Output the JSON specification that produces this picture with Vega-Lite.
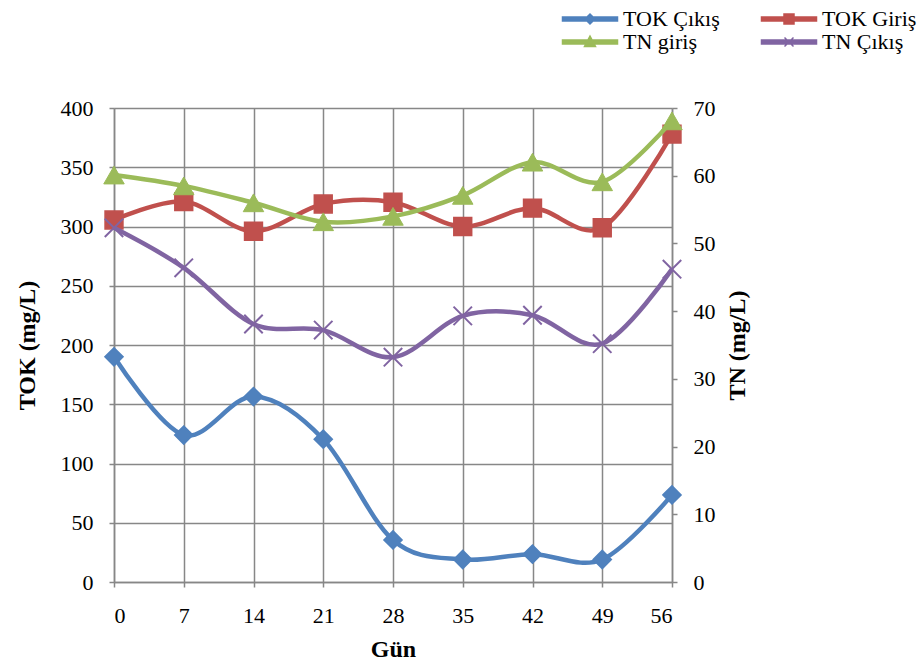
{
  "$schema": "https://vega.github.io/schema/vega-lite/v6.json",
  "width": 558,
  "height": 474,
  "autosize": "none",
  "padding": {"left": 114, "top": 108, "right": 251, "bottom": 87},
  "background": "white",
  "config": {
    "font": "Liberation Serif",
    "view": {"stroke": null},
    "axis": {
      "labelFont": "Liberation Serif",
      "labelFontSize": 22,
      "labelColor": "black",
      "titleFont": "Liberation Serif",
      "titleFontSize": 24,
      "titleFontWeight": "bold",
      "titleColor": "black",
      "domainColor": "#878787",
      "domainWidth": 1.5,
      "tickColor": "#878787",
      "tickWidth": 1.5,
      "tickSize": 5,
      "gridColor": "#878787",
      "gridWidth": 1.5,
      "gridOpacity": 1,
      "labelPadding": 16
    }
  },
  "data": {
    "values": [
      {"gun": 0, "seri": "TOK Çıkış", "eksen": "TOK", "deger": 190},
      {"gun": 7, "seri": "TOK Çıkış", "eksen": "TOK", "deger": 124},
      {"gun": 14, "seri": "TOK Çıkış", "eksen": "TOK", "deger": 156.5},
      {"gun": 21, "seri": "TOK Çıkış", "eksen": "TOK", "deger": 120.5},
      {"gun": 28, "seri": "TOK Çıkış", "eksen": "TOK", "deger": 35.5},
      {"gun": 35, "seri": "TOK Çıkış", "eksen": "TOK", "deger": 19},
      {"gun": 42, "seri": "TOK Çıkış", "eksen": "TOK", "deger": 23.5},
      {"gun": 49, "seri": "TOK Çıkış", "eksen": "TOK", "deger": 19},
      {"gun": 56, "seri": "TOK Çıkış", "eksen": "TOK", "deger": 73.5},
      {"gun": 0, "seri": "TOK Giriş", "eksen": "TOK", "deger": 305.5},
      {"gun": 7, "seri": "TOK Giriş", "eksen": "TOK", "deger": 321},
      {"gun": 14, "seri": "TOK Giriş", "eksen": "TOK", "deger": 296},
      {"gun": 21, "seri": "TOK Giriş", "eksen": "TOK", "deger": 319},
      {"gun": 28, "seri": "TOK Giriş", "eksen": "TOK", "deger": 320.5},
      {"gun": 35, "seri": "TOK Giriş", "eksen": "TOK", "deger": 300},
      {"gun": 42, "seri": "TOK Giriş", "eksen": "TOK", "deger": 315.5},
      {"gun": 49, "seri": "TOK Giriş", "eksen": "TOK", "deger": 299},
      {"gun": 56, "seri": "TOK Giriş", "eksen": "TOK", "deger": 378},
      {"gun": 0, "seri": "TN giriş", "eksen": "TN", "deger": 60.1},
      {"gun": 7, "seri": "TN giriş", "eksen": "TN", "deger": 58.5},
      {"gun": 14, "seri": "TN giriş", "eksen": "TN", "deger": 56},
      {"gun": 21, "seri": "TN giriş", "eksen": "TN", "deger": 53.2},
      {"gun": 28, "seri": "TN giriş", "eksen": "TN", "deger": 54},
      {"gun": 35, "seri": "TN giriş", "eksen": "TN", "deger": 57.1},
      {"gun": 42, "seri": "TN giriş", "eksen": "TN", "deger": 62},
      {"gun": 49, "seri": "TN giriş", "eksen": "TN", "deger": 59.1},
      {"gun": 56, "seri": "TN giriş", "eksen": "TN", "deger": 68.1},
      {"gun": 0, "seri": "TN Çıkış", "eksen": "TN", "deger": 52.3},
      {"gun": 7, "seri": "TN Çıkış", "eksen": "TN", "deger": 46.4},
      {"gun": 14, "seri": "TN Çıkış", "eksen": "TN", "deger": 38.1},
      {"gun": 21, "seri": "TN Çıkış", "eksen": "TN", "deger": 37.2},
      {"gun": 28, "seri": "TN Çıkış", "eksen": "TN", "deger": 33.2},
      {"gun": 35, "seri": "TN Çıkış", "eksen": "TN", "deger": 39.3},
      {"gun": 42, "seri": "TN Çıkış", "eksen": "TN", "deger": 39.4},
      {"gun": 49, "seri": "TN Çıkış", "eksen": "TN", "deger": 35.2},
      {"gun": 56, "seri": "TN Çıkış", "eksen": "TN", "deger": 46.2}
    ]
  },
  "encoding": {
    "x": {
      "field": "gun",
      "type": "quantitative",
      "scale": {"domain": [0, 56], "nice": false, "zero": false},
      "axis": {
        "values": [0, 7, 14, 21, 28, 35, 42, 49, 56],
        "title": "Gün",
        "grid": true,
        "labelAngle": 0,
        "labelPadding": 18,
        "titlePadding": 11
      }
    }
  },
  "layer": [
    {
      "transform": [{"filter": "datum.eksen === 'TOK'"}],
      "encoding": {
        "y": {
          "field": "deger",
          "type": "quantitative",
          "scale": {"domain": [0, 400], "nice": false},
          "axis": {
            "orient": "left",
            "values": [0, 50, 100, 150, 200, 250, 300, 350, 400],
            "title": "TOK (mg/L)",
            "grid": true,
            "titlePadding": 21
          }
        }
      },
      "layer": [
        {
          "mark": {"type": "line", "interpolate": "cardinal", "strokeWidth": 4.5},
          "encoding": {
            "color": {
              "field": "seri",
              "type": "nominal",
              "scale": {
                "domain": ["TOK Çıkış", "TOK Giriş", "TN giriş", "TN Çıkış"],
                "range": ["#4F81BD", "#C0504D", "#9BBB59", "#8064A2"]
              }
            }
          }
        },
        {
          "transform": [{"filter": "datum.seri === 'TOK Çıkış'"}],
          "mark": {"type": "point", "shape": "diamond", "filled": true, "size": 330, "opacity": 1, "color": "#4F81BD", "strokeWidth": 1.5, "stroke": "#4F81BD"}
        },
        {
          "transform": [{"filter": "datum.seri === 'TOK Giriş'"}],
          "mark": {"type": "point", "shape": "square", "filled": true, "size": 320, "opacity": 1, "color": "#C0504D", "strokeWidth": 1.5, "stroke": "#C0504D"}
        },
        {
          "mark": {"type": "point", "filled": true, "size": 400, "opacity": 0},
          "encoding": {
            "color": {
              "field": "seri",
              "type": "nominal",
              "legend": {
                "orient": "none",
                "direction": "horizontal",
                "legendX": 465,
                "legendY": -100,
                "columns": 2,
                "title": null,
                "labelFont": "Liberation Serif",
                "labelFontSize": 22,
                "labelColor": "black",
                "labelLimit": 300,
                "symbolSize": 400,
                "symbolStrokeWidth": 1.5,
                "symbolOpacity": 1,
                "labelOffset": 22,
                "columnPadding": 38,
                "rowPadding": 1
              }
            },
            "shape": {
              "field": "seri",
              "type": "nominal",
              "scale": {
                "domain": ["TOK Çıkış", "TOK Giriş", "TN giriş", "TN Çıkış"],
                "range": [
                  "M-2.75,-0.2L2.75,-0.2L2.75,0.2L-2.75,0.2ZM-0.5,0L0,-0.5L0.5,0L0,0.5Z",
                  "M-2.75,-0.2L2.75,-0.2L2.75,0.2L-2.75,0.2ZM-0.5,-0.5L0.5,-0.5L0.5,0.5L-0.5,0.5Z",
                  "M-2.75,-0.2L2.75,-0.2L2.75,0.2L-2.75,0.2ZM0,-0.6L0.55,0.45L-0.55,0.45Z",
                  "M-2.75,-0.2L2.75,-0.2L2.75,0.2L-2.75,0.2ZM-0.45,-0.45L0.45,0.45M0.45,-0.45L-0.45,0.45"
                ]
              },
              "legend": {
                "orient": "none",
                "direction": "horizontal",
                "legendX": 465,
                "legendY": -100,
                "columns": 2,
                "title": null,
                "labelFont": "Liberation Serif",
                "labelFontSize": 22,
                "labelColor": "black",
                "labelLimit": 300,
                "symbolSize": 400,
                "symbolStrokeWidth": 1.5,
                "symbolOpacity": 1,
                "labelOffset": 22,
                "columnPadding": 38,
                "rowPadding": 1
              }
            }
          }
        }
      ]
    },
    {
      "transform": [{"filter": "datum.eksen === 'TN'"}],
      "encoding": {
        "y": {
          "field": "deger",
          "type": "quantitative",
          "scale": {"domain": [0, 70], "nice": false},
          "axis": {
            "orient": "right",
            "values": [0, 10, 20, 30, 40, 50, 60, 70],
            "title": "TN (mg/L)",
            "grid": false,
            "titleAngle": 270,
            "titleBaseline": "top",
            "titlePadding": 10
          }
        }
      },
      "layer": [
        {
          "mark": {"type": "line", "interpolate": "cardinal", "strokeWidth": 4.5},
          "encoding": {
            "color": {"field": "seri", "type": "nominal"}
          }
        },
        {
          "transform": [{"filter": "datum.seri === 'TN giriş'"}],
          "mark": {"type": "point", "shape": "triangle-up", "filled": true, "size": 420, "opacity": 1, "color": "#9BBB59", "strokeWidth": 1, "stroke": "#9BBB59"}
        },
        {
          "transform": [{"filter": "datum.seri === 'TN Çıkış'"}],
          "mark": {"type": "point", "shape": "M-1,-1L1,1M1,-1L-1,1", "filled": false, "size": 340, "opacity": 1, "color": "#8064A2", "strokeWidth": 2}
        }
      ]
    }
  ],
  "resolve": {"scale": {"y": "independent"}}
}
